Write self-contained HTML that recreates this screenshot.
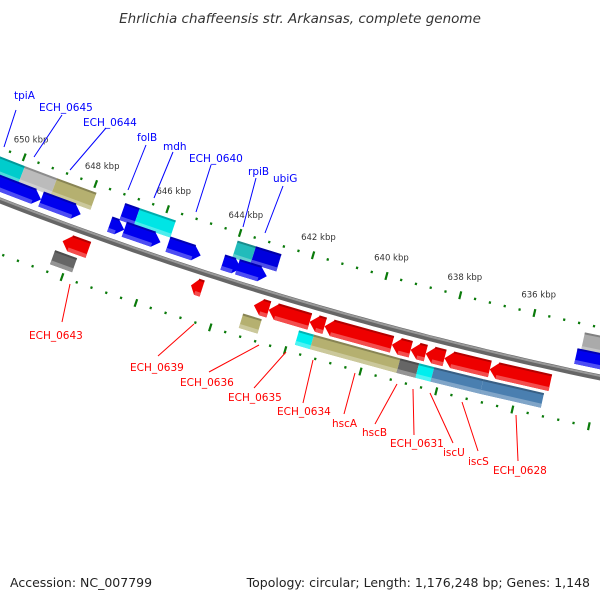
<!DOCTYPE html>
<html><head><meta charset="utf-8"><style>
body{margin:0;background:#fff}
svg{display:block}
text{font-family:"DejaVu Sans","Liberation Sans",sans-serif}
</style></head><body>
<svg id="c" width="600" height="600" viewBox="0 0 600 600">
<text x="300" y="23" text-anchor="middle" font-size="13.5" font-style="italic" fill="#333">Ehrlichia chaffeensis str. Arkansas, complete genome</text>
<text x="10" y="587" font-size="12.5" fill="#222">Accession: NC_007799</text>
<text x="590" y="587" font-size="12.5" fill="#222" text-anchor="end">Topology: circular; Length: 1,176,248 bp; Genes: 1,148</text>
<g id="g"></g>
</svg>
<script>
// gene data (kbp)
const geneStart = [650.9,649.9,649.0,647.1,646.7,644.0,643.5,634.6, 650.6,649.2,647.3,646.9,645.7,644.2,643.8,634.7, 648.3,644.8,643.1,642.7,641.6,641.2,639.4,638.9,638.5,638.0,636.8, 648.4,643.3,641.8,641.4,639.1,638.6,638.2,636.9];
const geneEnd   = [649.9,649.0,647.9,646.7,645.7,643.5,642.8,633.5, 649.2,648.1,646.9,645.9,644.8,643.7,643.0,633.5, 647.6,644.5,642.7,641.6,641.2,639.4,638.9,638.5,638.0,636.8,635.2, 647.8,642.8,641.4,639.1,638.6,638.2,636.9,635.3];
const geneTrack = [1,1,1,1,1,1,1,1, 0,0,0,0,0,0,0,0, 2,2,2,2,2,2,2,2,2,2,2, 3,3,3,3,3,3,3,3];
const geneColor = ['#00cccc','#bbbbbb','#b5b070','#0000ee','#00e5e5','#22bbbb','#0000dd','#aaaaaa', '#0000ee','#0000ee','#0000ee','#0000ee','#0000ee','#0000ee','#0000ee','#0000ee', '#ee0000','#ee0000','#ee0000','#ee0000','#ee0000','#ee0000','#ee0000','#ee0000','#ee0000','#ee0000','#ee0000', '#666666','#b5b070','#00eeee','#b5b070','#666666','#00eeee','#4a7fb0','#4a7fb0'];
const tickMajor = [652,650,648,646,644,642,640,638,636];
const tickLabels = ['652 kbp','650 kbp','648 kbp','646 kbp','644 kbp','642 kbp','640 kbp','638 kbp','636 kbp'];

const NS='http://www.w3.org/2000/svg', G=document.getElementById('g');
const CX=1367, CY=-3328, R=3784;
function ang(k){return (107.56+(k-644)*0.585)*Math.PI/180;}
function pt(k,r){const a=ang(k);return [CX+r*Math.cos(a),CY+r*Math.sin(a)];}
function el(t,a){const e=document.createElementNS(NS,t);for(const k in a)e.setAttribute(k,a[k]);G.appendChild(e);return e;}
function P(p){return p[0].toFixed(1)+','+p[1].toFixed(1);}

// backbone
const bb=[];for(let k=653;k>=631;k-=0.25)bb.push(P(pt(k,R)));
let e=el('polyline',{points:bb.join(' '),fill:'none',stroke:'#666','stroke-width':6});

const bb2=[];for(let k=653;k>=631;k-=0.25)bb2.push(P(pt(k,R-1.5)));
e=el('polyline',{points:bb2.join(' '),fill:'none',stroke:'#999','stroke-width':2});


// ticks
[R-49,R+50].forEach((rr,ri)=>{
  for(let i=0;i<=55;i++){
    const k=652.8-i*0.4, maj=Math.abs(k/2-Math.round(k/2))<0.01;
    const a=pt(k,rr-(maj?4:1.2)), b=pt(k,rr+(maj?4:1.2));
    const t=el('line',{x1:a[0],y1:a[1],x2:b[0],y2:b[1],stroke:'#0a7a0a','stroke-width':2.2});
    
    
  }
});
tickMajor.forEach((k,i)=>{
  const p=pt(k,R-68);
  const t=el('text',{x:p[0],y:p[1]+3,'font-size':8.5,fill:'#333','text-anchor':'middle'});
  t.textContent=tickLabels[i];
  
  
});

// genes
const tr=[[R-23,R-8],[R-40,R-23],[R+8,R+24],[R+28,R+42]];
function shade(c,f){const n=parseInt(c.slice(1),16);let r=n>>16,g=(n>>8)&255,b=n&255;
  const m=x=>Math.max(0,Math.min(255,Math.round(f>0?x+(255-x)*f:x*(1+f))));return 'rgb('+m(r)+','+m(g)+','+m(b)+')';}
geneStart.forEach((s,i)=>{
  const t=geneTrack[i], [r0,r1]=tr[t], en=geneEnd[i], rm=(r0+r1)/2;
  const arrow=(t===0||t===2), head=Math.min(0.2,Math.abs(s-en)*0.5);
  let pts;
  if(!arrow){pts=[pt(s,r0),pt(en,r0),pt(en,r1),pt(s,r1)];}
  else if(t===0){const hb=en+head;pts=[pt(s,r0),pt(hb,r0),pt(en,rm),pt(hb,r1),pt(s,r1)];}
  else {const hb=s-head;pts=[pt(en,r0),pt(hb,r0),pt(s,rm),pt(hb,r1),pt(en,r1)];}
  const g=el('polygon',{points:pts.map(P).join(' '),fill:geneColor[i]});
  
  
  const rb=r1-4;
  let band;
  if(!arrow) band=[pt(s,rb),pt(en,rb),pt(en,r1),pt(s,r1)];
  else if(t===0){const hb=en+head;band=[pt(s,rb),pt(hb,rb),pt(hb,r1),pt(s,r1)];}
  else {const hb=s-head;band=[pt(en,rb),pt(hb,rb),pt(hb,r1),pt(en,r1)];}
  const b=el('polygon',{points:band.map(P).join(' '),fill:shade(geneColor[i],0.3)});
  
  
  const top=[pt(arrow&&t===2?s-head:s,r0),pt(arrow&&t===0?en+head:en,r0)];
  const d=el('line',{x1:top[0][0],y1:top[0][1],x2:top[1][0],y2:top[1][1],stroke:shade(geneColor[i],-0.25),'stroke-width':2});
  
  
});

// labels
const labels=[
['tpiA',14,99,16,110,4,147,'#00f'],['ECH_0645',39,111,62,115,34,157,'#00f'],['ECH_0644',83,126,106,128,70,170,'#00f'],
['folB',137,141,146,145,128,190,'#00f'],['mdh',163,150,173,152,154,198,'#00f'],['ECH_0640',189,162,211,165,196,212,'#00f'],
['rpiB',248,175,256,178,243,227,'#00f'],['ubiG',273,182,283,186,265,233,'#00f'],
['ECH_0643',29,339,70,284,62,322,'#f00'],['ECH_0639',130,371,194,324,158,356,'#f00'],['ECH_0636',180,386,259,345,209,372,'#f00'],
['ECH_0635',228,401,286,352,254,388,'#f00'],['ECH_0634',277,415,313,360,303,403,'#f00'],['hscA',332,427,355,373,344,414,'#f00'],
['hscB',362,436,397,384,375,424,'#f00'],['ECH_0631',390,447,413,389,414,435,'#f00'],['iscU',443,456,430,393,453,443,'#f00'],
['iscS',468,465,462,402,478,451,'#f00'],['ECH_0628',493,474,516,415,518,461,'#f00']];
labels.forEach(l=>{
  const ln=el('line',{x1:l[3],y1:l[4],x2:l[5],y2:l[6],stroke:l[7],'stroke-width':1});
  
  
  const t=el('text',{x:l[1],y:l[2],'font-size':10.5,fill:l[7]});
  t.textContent=l[0];
  
  
});
</script>
</body></html>
